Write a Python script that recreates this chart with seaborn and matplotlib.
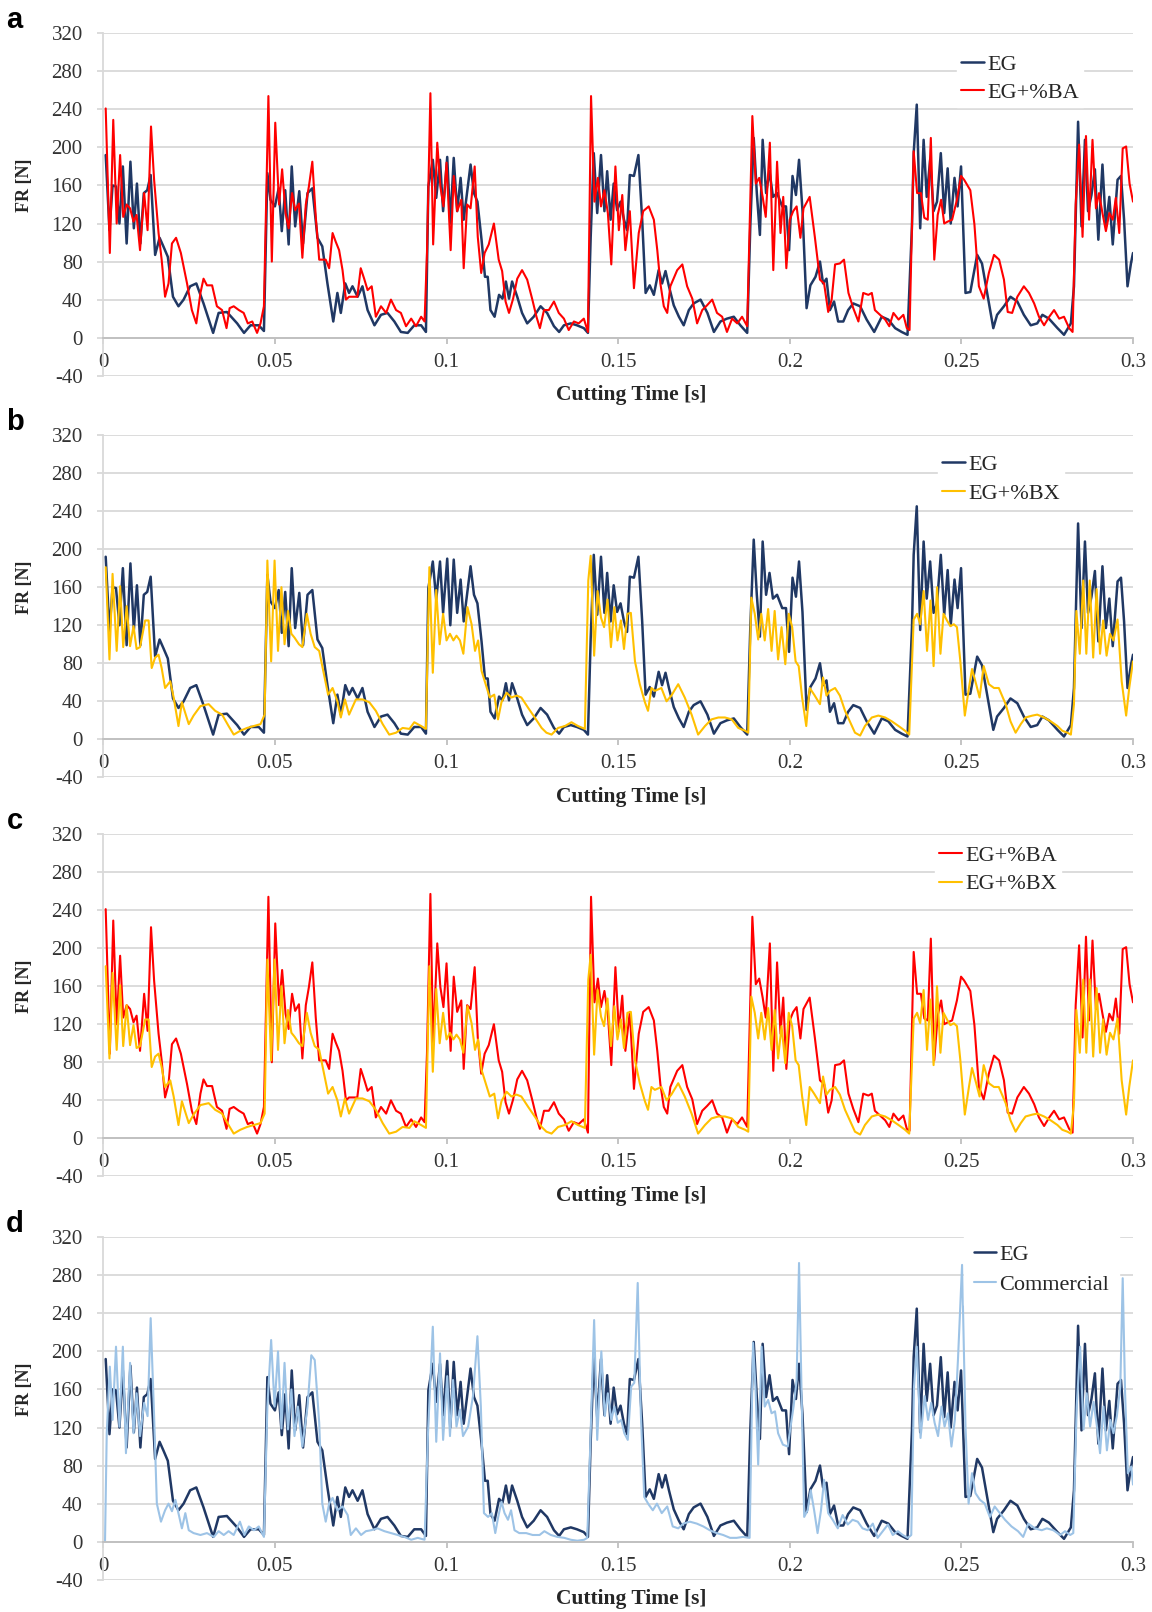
import numpy as np
import pandas as pd
import matplotlib
matplotlib.use("Agg")
import matplotlib.pyplot as plt
import seaborn as sns
from matplotlib.ticker import FuncFormatter

# cutting time in ms, force in N
eg_t = [0.7, 1.8, 2.7, 3.7, 4.7, 5.7, 6.8, 7.9, 8.9, 9.8, 10.8, 11.8, 12.8, 13.8, 15.1, 16.4, 17.5, 18.8, 20.3, 21.9,
        23.4, 25.3, 27.1, 29.2, 32.0, 33.6, 36.0, 39.0, 41.0, 42.9, 45.3, 46.8,
        47.8, 48.7, 50.0, 51.1, 52.0, 53.0, 54.0, 54.9, 55.9, 57.1, 58.2, 59.5, 60.9, 62.4, 63.8, 65.3, 67.0, 68.2,
        69.2, 70.5, 71.6, 72.6, 74.1, 75.5, 77.0, 79.0, 80.9, 82.8, 84.8, 86.7, 88.7, 90.6, 92.6, 94.0,
        94.7, 96.0, 97.0, 98.1, 99.0, 100.2, 101.1, 102.1, 103.1, 104.1, 105.0, 107.0, 108.0, 109.0, 110.2, 111.2,
        112.0, 112.8, 114.0, 115.3, 116.3, 117.3, 118.2, 119.1, 120.6, 122.0, 123.5, 125.4, 127.4, 129.3, 131.3,
        132.8, 134.2, 136.2, 138.0, 140.0, 141.2,
        142.0, 142.9, 143.9, 145.0, 146.0, 146.8, 147.8, 148.7, 149.7, 150.7, 151.7, 152.6, 153.4, 154.6, 155.9,
        157.0, 158.0, 159.2, 160.4, 161.8, 162.8, 163.8, 164.8, 166.2, 167.7, 169.1, 170.6, 172.0, 174.0, 176.0,
        177.9, 179.8, 181.7, 183.7, 185.6, 187.6,
        188.5, 189.5, 190.4, 191.3, 192.1, 193.1, 194.1, 195.1, 196.3, 197.8, 198.9, 199.8, 200.8, 201.8, 202.7,
        203.7, 204.9, 206.0, 207.5, 208.8, 209.7, 210.7, 211.7, 212.9, 214.1, 215.6, 217.0, 218.5, 220.5, 222.4,
        224.6, 226.8, 228.7, 230.7, 232.6, 234.3,
        235.6, 236.1, 237.0, 238.0, 239.0, 239.9, 240.9, 241.9, 242.9, 244.0, 245.0, 246.0, 246.9, 248.0, 248.9,
        249.9, 251.2, 252.6, 254.6, 256.0, 257.5, 259.3, 260.4, 262.4, 264.3, 266.3, 268.2, 270.2, 272.1, 273.6,
        275.5, 278.0, 279.9, 281.9,
        282.8, 284.0, 285.0, 286.0, 286.9, 287.9, 288.9, 289.9, 291.1, 292.1, 293.1, 294.1, 295.5, 296.5, 297.4,
        298.4, 299.4, 300.0]
eg_fr = [192, 113, 160, 159, 120, 180, 99, 185, 115, 162, 99, 152, 155, 171, 87, 105, 96, 85, 43, 33,
         40, 54, 57, 36, 5, 26, 27, 15, 5, 13, 13, 7,
         173, 145, 138, 157, 112, 155, 98, 180, 117, 154, 99, 152, 157, 105, 96, 57, 17, 47,
         26, 57, 47, 54, 43, 54, 29, 13, 24, 26, 17, 6, 5, 13, 13, 6,
         159, 187, 147, 187, 133, 190, 120, 189, 133, 168, 124, 182, 152, 143, 103, 64,
         64, 29, 22, 45, 41, 59, 41, 59, 43, 26, 15, 22, 33, 26, 12,
         6, 13, 15, 13, 10, 5,
         106, 194, 131, 192, 133, 175, 124, 162, 134, 143, 124, 113, 171, 170, 192,
         124, 47, 55, 45, 71, 57, 70, 54, 34, 22, 13, 29, 36, 40, 26,
         6, 17, 20, 22, 13, 5,
         117, 210, 152, 108, 208, 152, 175, 148, 152, 138, 138, 92, 170, 150, 187,
         134, 31, 55, 64, 80, 57, 62, 29, 38, 17, 17, 29, 36, 33, 19,
         6, 22, 19, 10, 6, 3,
         117, 194, 245, 115, 208, 148, 187, 133, 143, 194, 131, 178, 120, 168, 138,
         180, 47, 48, 87, 78, 47, 10, 24, 33, 43, 38, 24, 13, 15, 24,
         20, 10, 3, 15,
         54, 227, 117, 208, 133, 150, 177, 103, 182, 117, 148, 98, 166, 170, 124,
         54, 78, 89]

ba_t = [0.7, 1.9, 2.9, 3.9, 4.9, 5.8, 6.8, 7.8, 8.8, 9.7, 10.7, 11.9, 12.9, 13.9, 14.8, 16.1, 17.0, 18.0, 19.0, 20.0,
        21.2, 22.6, 24.4, 25.8, 27.1, 28.3, 29.2, 30.2, 31.7, 33.1, 34.6, 35.9, 36.8, 38.0, 39.5, 40.9, 42.1, 43.4,
        44.8, 45.8, 46.8,
        48.1, 49.1, 50.1, 51.2, 52.1, 53.1, 54.0, 55.0, 55.9, 57.0, 58.0, 59.0, 59.9, 60.9, 61.9, 62.9, 63.8, 64.8,
        65.8, 66.8, 67.7, 68.7, 69.7, 70.7, 71.6, 73.1, 74.0, 75.0, 76.0, 77.0, 78.2, 79.4, 80.9, 82.4, 83.8, 85.3,
        86.7, 88.2, 89.7, 91.1, 92.6, 93.6, 94.3,
        95.3, 96.1, 97.3, 98.2, 99.1, 100.0, 101.2, 102.1, 103.1, 104.3, 105.0, 106.0, 107.0, 108.2, 109.1, 110.1,
        111.1, 112.3, 113.8, 115.2, 116.2, 117.2, 118.2, 119.4, 120.6, 122.0, 123.5, 125.0, 126.2, 127.2, 128.4,
        129.8, 131.3, 132.7, 134.2, 135.6, 137.1, 138.5, 140.0, 141.2,
        142.1, 143.1, 144.1, 145.0, 146.0, 147.0, 148.0, 149.2, 150.2, 151.2, 152.1, 153.4, 154.6, 156.0, 157.3,
        158.9, 160.4, 161.4, 162.3, 163.3, 164.3, 165.2, 167.2, 168.7, 170.1, 171.6, 173.0, 174.5, 175.9, 177.4,
        178.8, 180.3, 181.7, 183.2, 184.7, 186.1, 187.6,
        188.3, 189.1, 190.1, 191.1, 192.1, 193.0, 194.2, 195.2, 196.3, 197.3, 198.1, 199.0, 200.0, 201.0, 202.0,
        203.1, 204.0, 205.8, 207.3, 208.8, 210.0, 211.2, 212.2, 213.2, 214.6, 215.8, 217.1, 218.5, 220.0, 221.4,
        222.9, 223.9, 224.8, 226.3, 227.8, 229.0, 230.2, 231.7, 233.1, 234.1, 234.9,
        236.1, 237.1, 238.2, 239.2, 240.2, 241.1, 242.1, 243.1, 244.1, 245.0, 246.0, 247.3, 248.7, 249.9, 250.8,
        252.6, 253.8, 255.1, 256.5, 258.0, 259.5, 261.0, 262.4, 263.5, 264.8, 266.3, 268.2, 269.7, 271.2, 272.6,
        274.1, 275.6, 277.0, 278.5, 279.9, 281.4, 282.4,
        283.3, 284.3, 285.3, 286.3, 287.2, 288.2, 289.2, 290.1, 291.1, 292.1, 293.1, 294.1, 295.0, 296.0, 297.0,
        298.0, 299.0, 300.0]
ba_fr = [241, 89, 229, 120, 192, 127, 140, 136, 122, 129, 92, 152, 113, 222, 166, 110, 82, 43, 57, 99,
         105, 89, 57, 29, 15, 47, 62, 55, 55, 33, 29, 10, 31, 33, 29, 26, 15, 17,
         5, 15, 33,
         254, 80, 226, 140, 177, 131, 115, 152, 134, 141, 84, 140, 159, 185, 127, 82, 82, 82,
         73, 110, 101, 92, 71, 40, 43, 43, 43, 73, 62, 50, 54, 22, 33, 26, 40, 29,
         26, 12, 20, 12, 22, 17, 89,
         257, 98, 205, 159, 138, 184, 92, 170, 133, 145, 73, 140, 136, 180, 106, 68,
         89, 98, 120, 82, 70, 38, 26, 41, 62, 71, 61, 40, 22, 10, 29,
         29, 38, 26, 20, 8, 17, 15, 20, 6,
         254, 143, 168, 138, 155, 131, 77, 180, 113, 150, 92, 133, 52, 110, 133,
         138, 124, 92, 57, 33, 26, 54, 71, 77, 54, 41, 15, 29, 34, 40,
         26, 22, 6, 20, 15, 22, 12,
         117, 233, 162, 168, 148, 127, 205, 71, 185, 110, 148, 73, 124, 133, 138,
         105, 136, 148, 106, 61, 57, 27, 40, 77, 78, 82, 47, 31, 17, 47,
         45, 47, 29, 24, 19, 12, 26, 19, 24, 10, 8,
         196, 152, 152, 126, 124, 210, 82, 129, 145, 120, 122, 124, 145, 170, 166,
         155, 119, 54, 41, 68, 87, 82, 61, 27, 26, 43, 54, 47, 36, 22,
         13, 22, 29, 20, 22, 10, 6,
         140, 203, 106, 212, 124, 208, 136, 152, 131, 112, 131, 124, 147, 110, 199,
         201, 162, 143]

bx_t = [0.7, 1.8, 2.7, 3.9, 4.9, 5.8, 6.8, 7.8, 8.8, 9.7, 10.7, 12.2, 13.2, 14.1, 15.1, 16.1, 17.0, 18.0, 19.5, 20.5,
        21.9, 22.9, 24.9, 26.3, 28.3, 30.7, 32.6, 34.6, 36.5, 38.0, 39.9, 41.9, 43.9, 45.8, 47.0,
        47.8, 48.9, 49.9, 50.9, 51.9, 52.8, 53.8, 54.8, 55.7, 57.0, 58.0, 59.3, 60.4, 61.6, 62.9, 64.3, 65.5, 66.8,
        68.2, 69.2, 70.4, 71.6, 73.6, 75.5, 77.5, 79.4, 81.4, 83.3, 85.3, 87.2, 89.2, 90.6, 92.6, 94.0,
        95.0, 96.0, 97.0, 98.0, 99.0, 100.0, 101.0, 102.0, 102.9, 103.9, 104.9, 106.1, 107.3, 108.3, 109.2, 110.2,
        111.4, 112.6, 113.9, 115.0, 116.0, 117.5, 118.9, 120.4, 121.8, 123.8, 125.7, 127.7, 129.1, 130.6, 132.5,
        134.5, 136.4, 138.3, 140.3,
        141.3, 142.0, 143.0, 144.0, 145.0, 145.9, 146.9, 147.9, 148.9, 149.8, 150.8, 151.7, 152.7, 153.7, 154.9,
        156.3, 157.8, 158.7, 159.7, 160.7, 162.6, 164.1, 165.5, 167.5, 169.4, 171.4, 173.3, 175.3, 177.2, 179.2,
        181.1, 183.1, 185.0, 187.0, 187.9,
        188.8, 189.8, 190.8, 191.7, 192.7, 193.7, 194.7, 195.6, 196.6, 197.6, 198.7, 199.7, 200.7, 201.7, 202.6,
        203.6, 204.8, 205.8, 207.1, 208.8, 209.7, 210.7, 211.7, 213.2, 214.6, 216.1, 217.5, 219.0, 220.5, 221.9,
        223.9, 225.8, 227.8, 229.7, 231.7, 233.6, 234.8,
        236.1, 237.1, 238.0, 239.0, 240.0, 241.0, 241.9, 242.9, 243.9, 244.8, 245.8, 246.8, 247.8, 248.7, 249.7,
        251.0, 252.2, 253.1, 254.3, 255.3, 256.5, 258.0, 259.5, 260.9, 262.9, 264.3, 265.8, 267.3, 268.7, 270.7,
        272.1, 274.1, 276.0, 278.0, 279.4, 280.9, 281.9, 282.8,
        283.5, 284.5, 285.5, 286.4, 287.4, 288.4, 289.4, 290.4, 291.3, 292.3, 293.3, 294.3, 295.5, 296.7, 298.0,
        298.9, 300.0]
bx_fr = [181, 84, 174, 93, 161, 97, 140, 98, 119, 95, 97, 125, 125, 75, 86, 89, 75, 54, 61, 44,
         14, 39, 16, 25, 35, 37, 30, 26, 14, 5, 9, 12, 14, 16, 26,
         188, 82, 188, 93, 160, 100, 135, 111, 107, 100, 97, 132, 111, 97, 93, 68, 47, 54,
         40, 23, 42, 26, 42, 42, 39, 30, 16, 5, 7, 12, 11, 18, 14, 11,
         181, 70, 157, 100, 132, 104, 111, 104, 109, 104, 90, 139, 121, 93, 104, 72,
         58, 44, 47, 21, 39, 49, 44, 46, 44, 33, 23, 12, 7, 5, 12,
         14, 18, 14, 11,
         167, 193, 88, 156, 128, 118, 147, 97, 139, 104, 125, 95, 132, 133, 82,
         58, 39, 30, 54, 51, 54, 40, 46, 58, 44, 26, 5, 14, 21, 23,
         23, 21, 12, 9, 7,
         149, 132, 105, 132, 104, 137, 93, 135, 84, 118, 79, 132, 118, 82, 77,
         44, 14, 54, 47, 37, 65, 46, 51, 54, 46, 30, 19, 7, 4, 14,
         23, 25, 23, 19, 14, 9, 5,
         126, 132, 121, 156, 93, 146, 77, 160, 90, 132, 125, 119, 121, 118, 82,
         25, 54, 74, 58, 44, 77, 58, 54, 54, 37, 19, 7, 16, 23, 25,
         26, 23, 19, 14, 9, 7, 5, 37,
         135, 90, 167, 90, 167, 86, 158, 90, 125, 88, 111, 104, 126, 61, 25,
         54, 82]

com_t = [0.5, 1.0, 1.9, 2.7, 3.7, 4.7, 5.7, 6.6, 7.8, 8.8, 9.7, 10.7, 11.9, 12.9, 13.8, 14.8, 15.6, 16.8, 18.0, 19.0,
         20.0, 21.0, 21.9, 22.9, 23.9, 24.9, 26.3, 28.3, 30.2, 32.2, 33.6, 35.1, 36.5, 38.0, 39.8, 41.1, 42.4, 43.9,
         45.3, 46.8,
         47.8, 48.9, 49.9, 50.9, 51.9, 52.8, 53.8, 54.8, 55.7, 56.7, 58.0, 59.5, 60.6, 61.6, 62.9, 63.8, 64.8, 65.8,
         66.8, 68.2, 69.7, 71.2, 72.1, 73.6, 75.1, 76.5, 78.0, 79.9, 81.9, 83.8, 85.8, 87.7, 89.7, 91.6, 93.6,
         94.6, 96.0, 97.0, 98.1, 99.0, 100.2, 101.0, 101.9, 102.9, 103.9, 104.8, 106.3, 107.7, 109.0, 110.0, 110.9,
         112.1, 113.2, 114.2, 115.0, 116.0, 116.9, 117.9, 118.8, 119.8, 121.2, 123.2, 125.1, 127.1, 128.5, 130.4,
         132.3, 134.3, 136.2, 138.1, 140.1, 141.0,
         141.8, 143.0, 143.9, 145.1, 146.1, 147.0, 148.0, 148.9, 149.9, 150.9, 151.8, 152.8, 153.8, 154.7, 155.7,
         156.6, 157.6, 158.9, 160.1, 161.3, 162.7, 164.3, 165.9, 167.5, 169.0, 170.9, 172.9, 174.8, 176.7, 178.7,
         180.6, 182.6, 184.5, 186.4, 188.3,
         189.3, 190.0, 190.8, 191.8, 192.7, 193.7, 194.7, 195.7, 196.6, 198.0, 199.4, 201.1, 202.0, 202.7, 203.4,
         204.2, 205.2, 206.1, 207.1, 208.1, 209.1, 210.0, 211.2, 212.5, 214.0, 215.4, 216.9, 218.3, 219.8, 221.2,
         222.7, 224.2, 225.6, 227.1, 228.6, 230.0, 231.5, 232.9, 234.4, 235.4,
         236.2, 237.0, 238.1, 239.3, 240.3, 241.2, 242.2, 243.2, 244.2, 245.1, 246.1, 247.1, 248.1, 249.0, 250.2,
         251.2, 252.1, 253.1, 254.1, 255.4, 256.8, 258.3, 259.7, 261.2, 262.7, 264.6, 266.5, 268.0, 269.5, 271.4,
         273.4, 274.9, 276.8, 278.8, 280.2, 281.7, 282.6,
         283.6, 284.6, 285.6, 286.5, 287.5, 288.5, 289.5, 290.4, 291.4, 292.4, 293.4, 294.3, 295.3, 296.3, 297.0,
         297.7, 298.5, 299.5, 300.0]
com_fr = [0, 114, 184, 128, 205, 121, 205, 93, 188, 114, 156, 111, 146, 132, 235, 132, 40, 21, 33, 40,
          32, 44, 30, 14, 30, 12, 9, 7, 9, 5, 11, 7, 11, 7, 21, 7, 16, 12,
          16, 5,
          142, 212, 142, 200, 119, 188, 118, 160, 111, 142, 100, 142, 196, 191, 125, 40, 21, 40,
          46, 33, 37, 28, 7, 14, 7, 11, 12, 14, 11, 9, 7, 5, 2, 4, 2,
          114, 226, 105, 198, 107, 174, 111, 170, 121, 139, 111, 121, 153, 216, 142, 30,
          26, 30, 9, 25, 42, 30, 23, 33, 12, 9, 9, 7, 7, 11, 7,
          5, 4, 2, 1, 2, 4,
          93, 233, 107, 200, 132, 156, 128, 142, 125, 128, 114, 107, 163, 167, 272,
          135, 47, 39, 33, 40, 30, 37, 16, 14, 19, 21, 19, 16, 12, 9,
          7, 4, 4, 5, 4,
          209, 163, 81, 205, 142, 149, 135, 137, 114, 102, 100, 142, 170, 293, 163,
          26, 33, 54, 33, 9, 33, 65, 30, 23, 14, 28, 18, 23, 21, 14,
          12, 19, 4, 11, 18, 7, 11, 7, 4, 7,
          163, 205, 109, 153, 128, 146, 125, 111, 142, 121, 135, 100, 128, 191, 291,
          121, 40, 72, 51, 44, 40, 26, 37, 30, 23, 16, 11, 5, 19, 14,
          12, 14, 12, 7, 11, 7, 9,
          142, 205, 118, 156, 121, 147, 121, 93, 142, 96, 128, 114, 132, 163, 277,
          156, 72, 79, 60]

series = {
    "EG": (eg_t, eg_fr),
    "EG+%BA": (ba_t, ba_fr),
    "EG+%BX": (bx_t, bx_fr),
    "Commercial": (com_t, com_fr),
}
colors = {"EG": "#203864", "EG+%BA": "#ff0000", "EG+%BX": "#ffc000", "Commercial": "#9dc3e6"}
widths = {"EG": 1.8, "EG+%BA": 1.5, "EG+%BX": 1.5, "Commercial": 1.5}

panels = [
    ("a", ["EG", "EG+%BA"]),
    ("b", ["EG", "EG+%BX"]),
    ("c", ["EG+%BA", "EG+%BX"]),
    ("d", ["EG", "Commercial"]),
]

sns.set_style("white")
plt.rcParams["font.family"] = ["Liberation Serif", "DejaVu Serif"]
plt.rcParams["axes.unicode_minus"] = False

W, H = 1152, 1612
fig = plt.figure(figsize=(W / 100, H / 100), dpi=100)

# pixel layout of each panel: top of plot area, legend top-left, legend row gap, legend padding
ax_left, ax_width, ax_height = 103.3, 1029.7, 342.4
tops = [33.3, 435.0, 834.0, 1237.3]
legend_pos = [(957, 50), (938, 450), (935, 841), (964, 1234)]
legend_gap = [0.32, 0.37, 0.35, 0.45]
legend_pad = [0.2, 0.2, 0.2, 0.45]

for (letter, names), top, (lx, ly), gap, bpad in zip(panels, tops, legend_pos, legend_gap, legend_pad):
    ax = fig.add_axes([ax_left / W, 1 - (top + ax_height) / H, ax_width / W, ax_height / H])
    for name in names:
        t, fr = series[name]
        df = pd.DataFrame({"t": np.array(t) / 1000.0, "FR": fr})
        sns.lineplot(data=df, x="t", y="FR", ax=ax, color=colors[name], linewidth=widths[name],
                     label=name, estimator=None, errorbar=None, sort=False)

    ax.set_xlim(0, 0.3)
    ax.set_ylim(-40, 320)
    ax.set_xticks(np.arange(0, 0.301, 0.05))
    ax.set_yticks(np.arange(-40, 321, 40))
    ax.xaxis.set_major_formatter(FuncFormatter(lambda v, p: f"{v:g}"))
    ax.yaxis.set_major_formatter(FuncFormatter(lambda v, p: f"{v:.0f}"))
    ax.grid(axis="y", color="#d9d9d9", linewidth=1.3)
    ax.grid(axis="x", visible=False)
    ax.set_axisbelow(True)

    for s in ["top", "right"]:
        ax.spines[s].set_visible(False)
    ax.spines["bottom"].set_position(("data", 0))
    ax.spines["bottom"].set_color("#bfbfbf")
    ax.spines["bottom"].set_linewidth(1.3)
    ax.spines["left"].set_color("#d9d9d9")
    ax.spines["left"].set_linewidth(1.3)

    ax.tick_params(axis="y", direction="out", length=4.3, width=1.3, color="#d9d9d9",
                   pad=10.5, labelsize=15, labelcolor="#333333", left=True)
    ax.tick_params(axis="x", direction="out", length=4.3, width=1.3, color="#bfbfbf",
                   pad=6.5, labelsize=15, labelcolor="#333333", bottom=True)

    ax.set_xlabel("Cutting Time [s]", fontsize=15.5, fontweight="bold", color="#262626")
    ax.xaxis.set_label_coords(0.513, -0.028)
    ax.set_ylabel("FR [N]", fontsize=13, fontweight="bold", color="#262626")
    ax.yaxis.set_label_coords(-0.068, 0.555)

    ax.text(-0.086, 1.038, letter, transform=ax.transAxes, fontsize=21, fontweight="bold",
            family=["Liberation Sans", "DejaVu Sans"], ha="center", va="center", color="black")

    ax.legend(loc="upper left", bbox_to_anchor=(lx / W, 1 - ly / H), bbox_transform=fig.transFigure,
              prop={"family": "Liberation Serif", "size": 16}, handlelength=1.0, handletextpad=0.15,
              borderpad=bpad, labelspacing=gap, borderaxespad=0, frameon=True, fancybox=False,
              framealpha=1, edgecolor="white", facecolor="white", labelcolor="#262626")

fig.savefig("out.png", dpi=100)
